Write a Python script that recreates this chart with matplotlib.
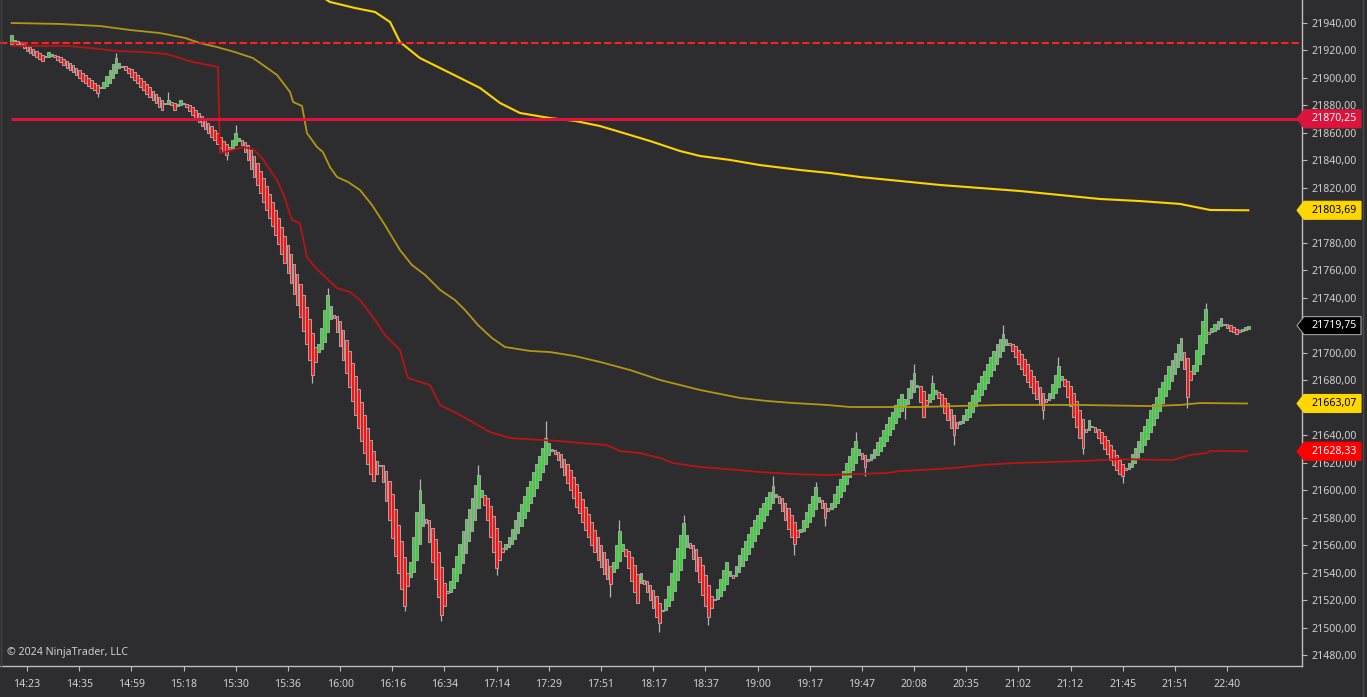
import matplotlib
matplotlib.use("Agg")
import matplotlib.pyplot as plt
from matplotlib.patches import Polygon
from matplotlib.lines import Line2D
import matplotlib.transforms as mtransforms

# ---------------- data ----------------
closes = [
    21931, 21927, 21925, 21923, 21921.5, 21919.5, 21918, 21916.5, 21915, 21913.5, 21912,
    21916, 21919,
    21917, 21915, 21913, 21911.5, 21909.5, 21907.5, 21906, 21904, 21902, 21900, 21898, 21896.5, 21894.5, 21892.5, 21891, 21889,
    21893, 21897, 21901.5, 21906, 21910.5, 21914.5,
    21911, 21908.5, 21906, 21903.5, 21901, 21898.5, 21896, 21893.5, 21891, 21888.5, 21886, 21884, 21881.5, 21879, 21877,
    21881, 21884, 21880, 21877, 21880.5, 21884,
    21881, 21878.5, 21876, 21873, 21870.5, 21868, 21865, 21862.5, 21860, 21857, 21854.5, 21852, 21849, 21846.5, 21844,
    21849, 21855, 21860,
    21856, 21851, 21846, 21840, 21834, 21828, 21822, 21816, 21810, 21804, 21798, 21792, 21786, 21779, 21772, 21765, 21758, 21751, 21743, 21735, 21726, 21716, 21706, 21695, 21684,
    21693, 21706, 21718, 21731, 21742,
    21734, 21725, 21715, 21705, 21695, 21685, 21675, 21665, 21655, 21645, 21636, 21627, 21619, 21612, 21607, 21612, 21618, 21606, 21592, 21578, 21565, 21552, 21540, 21528, 21516,
    21530, 21548, 21566, 21584, 21600,
    21590, 21576, 21562, 21548, 21535, 21522, 21509,
    21516, 21525, 21534, 21543, 21552, 21561, 21570, 21579, 21586, 21594, 21604, 21611,
    21600, 21589, 21578, 21566, 21555, 21543,
    21549, 21555, 21561, 21566, 21572, 21578, 21584, 21590, 21596, 21602, 21607, 21613, 21619, 21625, 21631, 21638, 21634,
    21630, 21626, 21622, 21617, 21611, 21605, 21600, 21594, 21588, 21583, 21577, 21571, 21566, 21560, 21555, 21549, 21544, 21539, 21535, 21532,
    21548, 21560, 21570,
    21561, 21552, 21543, 21534, 21526, 21518,
    21540,
    21532, 21526, 21520, 21514, 21508, 21503,
    21512, 21521, 21530, 21540, 21549, 21558, 21567, 21576,
    21567, 21558, 21550, 21541, 21533, 21524, 21516, 21508,
    21514, 21521, 21528, 21535, 21542, 21548, 21541, 21536, 21545, 21553, 21558, 21563, 21568, 21573, 21578, 21582, 21587, 21591, 21595, 21599, 21603,
    21597, 21591, 21585, 21578, 21572, 21566, 21561,
    21566, 21572, 21578, 21584, 21590, 21596, 21602,
    21595, 21587, 21580,
    21585, 21591, 21597, 21603, 21608, 21614, 21620, 21625, 21631, 21636,
    21630, 21623, 21617,
    21621, 21626, 21630, 21635, 21639, 21644, 21648, 21653, 21657, 21662, 21666, 21670, 21666, 21674, 21680, 21685,
    21676, 21664, 21653,
    21662, 21670, 21678,
    21673, 21667, 21662, 21656, 21651, 21645, 21640,
    21645, 21650, 21655, 21659, 21664, 21669, 21673, 21678, 21683, 21687, 21692, 21697, 21701, 21706, 21710, 21714,
    21710, 21706, 21701, 21697, 21692, 21688, 21684, 21679, 21675, 21671, 21666, 21662, 21658,
    21664, 21671, 21677, 21684, 21690,
    21683, 21676, 21668, 21661, 21653, 21646, 21638, 21631,
    21642, 21651,
    21646, 21642, 21638, 21634, 21630, 21626, 21622, 21618, 21615, 21612, 21610,
    21615, 21620, 21626, 21631, 21636, 21642, 21647, 21652, 21658, 21663, 21668, 21674, 21679, 21684, 21690, 21695, 21700, 21706, 21711,
    21688, 21668,
    21680, 21691, 21702, 21713, 21723, 21732,
    21714, 21718, 21721, 21723, 21725, 21720, 21718, 21716, 21715, 21714, 21715, 21717, 21719, 21719.75,
]
first_open = 21925.0

wick_hi = {34: 21918, 51: 21890, 73: 21866, 103: 21747, 133: 21608, 152: 21618,
           174: 21650, 198: 21578, 219: 21582, 248: 21610, 262: 21606, 275: 21642,
           294: 21692, 300: 21684, 323: 21720, 341: 21697, 389: 21736}
wick_lo = {28: 21886, 70: 21840, 98: 21678, 128: 21512, 140: 21505, 158: 21538,
           195: 21522, 211: 21497, 227: 21502, 255: 21553, 265: 21574, 278: 21610,
           291: 21652, 307: 21633, 336: 21652, 349: 21626, 362: 21605, 383: 21660}

time_labels = ["14:23", "14:35", "14:59", "15:18", "15:30", "15:36", "16:00", "16:16",
               "16:34", "17:14", "17:29", "17:51", "18:17", "18:37", "19:00", "19:17",
               "19:47", "20:08", "20:35", "21:02", "21:12", "21:45", "21:51", "22:40"]
time_tick_bars = [5, 22, 39, 56, 73, 90, 107, 124, 141, 158, 175, 192, 209, 226,
                  243, 260, 277, 294, 311, 328, 345, 362, 379, 396]

# bright VWAP line
vwap_x = [87.4, 103.7, 111.9, 118.4, 123.3, 126.5, 133.0, 139.6, 146.1, 152.6, 159.1, 165.6,
          175.4, 183.6, 191.7, 198.2, 208.0, 217.8, 224.3, 234.1, 243.8, 256.9, 266.6, 276.4,
          289.5, 302.5, 315.5, 328.6, 341.6, 354.6, 367.7, 380.7, 385.6, 390.5, 402.9]
vwap_y = [21978.6, 21955.3, 21950.9, 21948.0, 21940.7, 21926.2, 21914.5, 21907.2, 21900.0,
          21892.7, 21881.8, 21874.5, 21870.8, 21868.7, 21865.0, 21860.7, 21854.1, 21846.8,
          21843.2, 21840.3, 21836.6, 21833.0, 21830.8, 21827.9, 21825.0, 21822.1, 21819.9,
          21817.7, 21814.8, 21811.9, 21810.4, 21808.3, 21806.1, 21803.9, 21803.69]

# dark gold line
gold_x = [0, 15.8, 28.8, 38.6, 48.3, 56.5, 61.4, 66.9, 72.8, 78.6, 81.9, 86.5, 90.7, 91.7,
          94.6, 96.2, 99.5, 101.4, 103.7, 106.0, 109.6, 113.5, 117.4, 121.6, 126.5, 130.4,
          134.7, 139.6, 144.4, 147.7, 151.9, 156.5, 160.7, 168.9, 175.4, 183.5, 191.7, 201.5,
          211.2, 224.3, 237.3, 246.1, 254.6, 265.6, 273.1, 295.9, 322.0, 348.1, 370.9, 380.7,
          387.2, 402.5]
gold_y = [21940.0, 21939.3, 21937.8, 21934.9, 21932.7, 21929.1, 21925.4, 21922.5, 21918.8,
          21914.5, 21909.4, 21902.1, 21889.7, 21882.5, 21879.6, 21859.9, 21849.7, 21846.1,
          21835.2, 21827.9, 21824.3, 21818.4, 21807.5, 21793.0, 21774.8, 21763.9, 21756.6,
          21745.7, 21738.4, 21731.1, 21720.2, 21710.7, 21704.2, 21701.3, 21700.5, 21697.6,
          21693.3, 21687.4, 21680.2, 21672.9, 21667.1, 21664.9, 21663.4, 21662.0, 21660.5,
          21660.5, 21662.0, 21662.0, 21661.2, 21662.0, 21663.4, 21663.07]

# dark red line
red_x = [0, 18.0, 28.8, 34.3, 42.8, 50.6, 54.8, 59.1, 67.2, 67.9, 72.1, 75.4, 78.6, 81.6,
         84.2, 86.4, 88.4, 91.3, 93.9, 96.2, 98.8, 103.1, 106.0, 110.2, 113.5, 118.4, 121.6,
         126.5, 129.1, 136.3, 139.6, 146.1, 155.8, 162.4, 178.7, 185.2, 194.0, 198.2, 204.7,
         211.2, 215.5, 224.3, 233.1, 243.8, 254.6, 265.6, 275.4, 285.2, 289.4, 295.9, 306.7,
         316.5, 326.2, 337.3, 349.0, 361.1, 378.4, 383.9, 389.4, 390.4, 402.5]
red_y = [21923.3, 21923.3, 21921.1, 21919.6, 21918.9, 21917.4, 21914.5, 21911.6, 21908.0,
         21845.4, 21847.6, 21849.7, 21848.3, 21841.7, 21833.0, 21825.7, 21816.3, 21796.6,
         21794.4, 21769.7, 21762.4, 21753.1, 21747.1, 21744.2, 21738.4, 21723.8, 21712.9,
         21702.0, 21681.6, 21676.5, 21661.9, 21654.7, 21642.3, 21637.9, 21635.7, 21634.3,
         21632.8, 21628.5, 21627.0, 21623.4, 21619.7, 21616.8, 21615.3, 21613.2, 21611.7,
         21611.0, 21611.7, 21612.5, 21613.9, 21614.6, 21616.1, 21618.3, 21619.7, 21620.4,
         21621.2, 21622.6, 21621.9, 21625.6, 21627.0, 21628.5, 21628.33]

level_dashed = 21925.5
level_solid = 21870.25

price_tags = [
    (21870.25, "21870,25", "#dc143c", "white", "#dc143c"),
    (21803.69, "21803,69", "#ffd700", "black", "#ffd700"),
    (21719.75, "21719,75", "#000000", "white", "#a0a0a0"),
    (21663.07, "21663,07", "#ffd700", "black", "#ffd700"),
    (21628.33, "21628,33", "#ff0000", "white", "#ff0000"),
]
y_ticks = list(range(21480, 21941, 20))

# ---------------- style ----------------
BG = "#2d2d30"
AXC = "#bdbdbd"
TXT = "#d0d0d0"
plt.rcParams['font.family'] = ['Noto Sans', 'DejaVu Sans']

W, H = 1367, 697
fig = plt.figure(figsize=(W / 100, H / 100), dpi=100)
fig.patch.set_facecolor(BG)
ax = fig.add_axes([0, 31 / H, 1302 / W, 666 / H])
ax.set_facecolor(BG)
ax.set_xlim(-3.8, 420.4)
ax.set_ylim(21472.0, 21956.74)

# smoothed (Heikin-Ashi-like) opens: each open trails the previous bar
opens = [first_open]
for i in range(1, len(closes)):
    opens.append((2 * opens[-1] + closes[i - 1]) / 3)

idx = list(range(len(closes)))
bottoms, heights, fills = [], [], []
for o, c in zip(opens, closes):
    lo, hi = min(o, c), max(o, c)
    if hi - lo < 1.0:
        mid = (hi + lo) / 2
        lo, hi = mid - 0.5, mid + 0.5
    bottoms.append(lo)
    heights.append(hi - lo)
    fills.append("#35d435" if c >= o else "#ff1010")

# wicks
for i, v in wick_hi.items():
    top = max(opens[i], closes[i])
    ax.vlines(i, top, v, color="#b4b4b4", lw=0.9, zorder=2)
for i, v in wick_lo.items():
    bot = min(opens[i], closes[i])
    ax.vlines(i, v, bot, color="#b4b4b4", lw=0.9, zorder=2)

ax.bar(idx, heights, bottom=bottoms, width=0.88, color=fills, edgecolor="#a3a3a3",
       linewidth=0.75, zorder=3)

ax.plot(red_x, red_y, color="#b81414", lw=1.3, zorder=4)
ax.plot(gold_x, gold_y, color="#b49614", lw=1.3, zorder=4)
ax.plot(vwap_x, vwap_y, color="#ffd400", lw=1.5, zorder=4)

ax.axhline(level_dashed, color="#ff2020", lw=1.5, dashes=(3.5, 1.5), zorder=5)
ax.hlines(level_solid, -0.2, 420.4, color="#dc143c", lw=2.2, zorder=5)

# axes styling
for s in ("top", "left"):
    ax.spines[s].set_visible(False)
for s in ("right", "bottom"):
    ax.spines[s].set_color(AXC)
    ax.spines[s].set_linewidth(1.0)

ax.yaxis.tick_right()
ax.set_yticks(y_ticks)
ax.set_yticklabels([f"{v:.2f}".replace(".", ",") for v in y_ticks])
ax.set_xticks(time_tick_bars)
ax.set_xticklabels(time_labels)
ax.tick_params(axis="y", direction="out", length=3.6, width=0.8, color=AXC,
               labelcolor=TXT, labelsize=7.6, pad=3.5)
ax.tick_params(axis="x", direction="out", length=3.6, width=0.8, color=AXC,
               labelcolor=TXT, labelsize=7.6, pad=5.5)

# tick labels fully hidden behind a price tag in the reference
tag_prices = [p[0] for p in price_tags]
for tv, lab in zip(y_ticks, ax.get_yticklabels()):
    if any(abs(tv - tp) < 5 for tp in tag_prices):
        lab.set_visible(False)

# price tags
trans = mtransforms.blended_transform_factory(fig.transFigure, ax.transData)
hh = 9 * (21956.74 - 21472.0) / 666
x_tip, x_body, x_right = 1297 / W, 1304 / W, 1361 / W
for price, label, fc, tc, ec in price_tags:
    poly = Polygon([(x_tip, price), (x_body, price + hh), (x_right, price + hh),
                    (x_right, price - hh), (x_body, price - hh)], closed=True,
                   facecolor=fc, edgecolor=ec, lw=0.8, transform=trans, zorder=10)
    fig.add_artist(poly)
    fig.text(1312 / W, price, label, transform=trans, color=tc, fontsize=7.6,
             va="center", ha="left", zorder=11)

# frame lines
fig.add_artist(Line2D([1363 / W, 1363 / W], [0, 1], color="#4a4a4d", lw=1.0))
fig.add_artist(Line2D([1 / W, 1 / W], [31 / H, 1], color="#444447", lw=1.0))

fig.text(7 / W, 1 - 652 / H, "© 2024 NinjaTrader, LLC", color=TXT, fontsize=7.6,
         va="center", ha="left")

fig.savefig("out.png", dpi=100, facecolor=BG)
